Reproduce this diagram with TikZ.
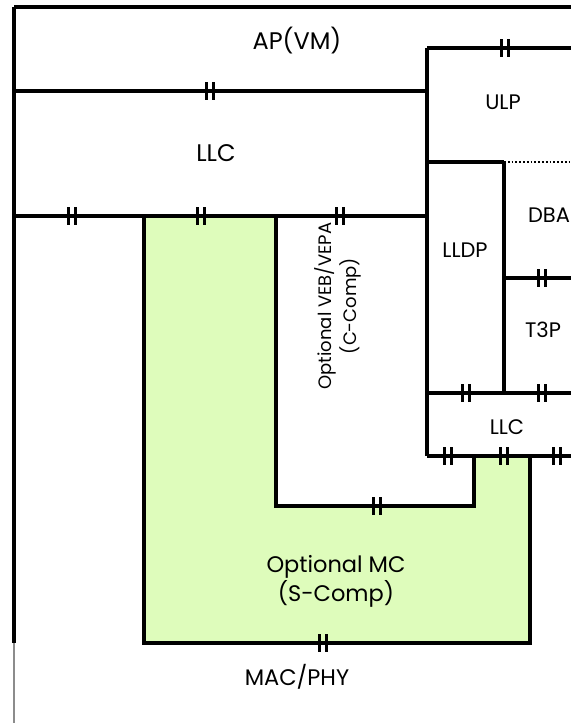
\documentclass[tikz,border=0pt]{standalone}
\usepackage{fontspec}
\setmainfont{Poppins}
\usetikzlibrary{positioning}
\definecolor{Ink}{HTML}{000000}
\definecolor{SoftLime}{HTML}{DEFCBB}
\definecolor{Edge}{HTML}{8C8C8C}

\begin{document}
\begin{tikzpicture}[x=1pt,y=-1pt,
  wall/.style={line width=3.2pt,draw=Ink},
  faint/.style={line width=1.4pt,draw=Edge},
  lbl/.style={font=\fontsize{24}{28}\selectfont,inner sep=0pt},
  sublbl/.style={font=\fontsize{21}{25}\selectfont,inner sep=0pt,align=center},
  vlbl/.style={font=\fontsize{18}{25}\selectfont,inner sep=0pt,align=center,rotate=90},
  mclbl/.style={font=\fontsize{22.5}{29}\selectfont,inner sep=0pt,align=center},
  pics/brk/.style={code={\draw[line width=2.8pt] (-3.5,-9)--(-3.5,9) (3.5,-9)--(3.5,9);}}
]
\useasboundingbox (0,0) rectangle (571,723);
\fill[SoftLime] (144,216)--(276,216)--(276,506)--(474,506)--(474,456)--(530,456)--(530,643)--(144,643)--cycle;

\draw[wall] (14,7)--(571,7);
\draw[wall] (14,7)--(14,643);
\draw[faint] (14,643)--(14,723);
\draw[wall] (14,91)--(427,91);
\draw[wall] (14,216)--(427,216);
\draw[wall] (427,48)--(571,48);
\draw[wall] (427,48)--(427,456);
\draw[wall] (427,162)--(504,162);
\draw[line width=1.8pt,dotted] (504,162)--(571,162);
\draw[wall] (504,162)--(504,393);
\draw[wall] (504,278)--(571,278);
\draw[wall] (427,393)--(571,393);
\draw[wall] (427,456)--(571,456);
\draw[wall] (144,216)--(144,643)--(530,643)--(530,456);
\draw[wall] (276,216)--(276,506)--(474,506)--(474,456);

\foreach \x/\y in {210/91,505/48,72/216,201/216,340/216,542/278,466/393,542/393,448/456,504/456,557/456,377/506,323/643}
  \pic at (\x,\y) {brk};

\node[lbl] (ap) at (297,41) {AP(VM)};
\node[lbl] (llc) at (216,153) {LLC};
\node[sublbl] (ulp) at (503,102) {ULP};
\node[sublbl] (lldp) at (465,250) {LLDP};
\node[sublbl] (dba) at (549,215) {DBA};
\node[sublbl] (tp) at (543,330) {T3P};
\node[sublbl] (llcs) at (507,427) {LLC};
\node[vlbl] (veb) at (338,306) {Optional VEB/VEPA\\(C-Comp)};
\node[mclbl] (mc) at (336,581) {Optional MC\\(S-Comp)};
\node[mclbl] (mac) at (297,677) {MAC/PHY};
\end{tikzpicture}
\end{document}
